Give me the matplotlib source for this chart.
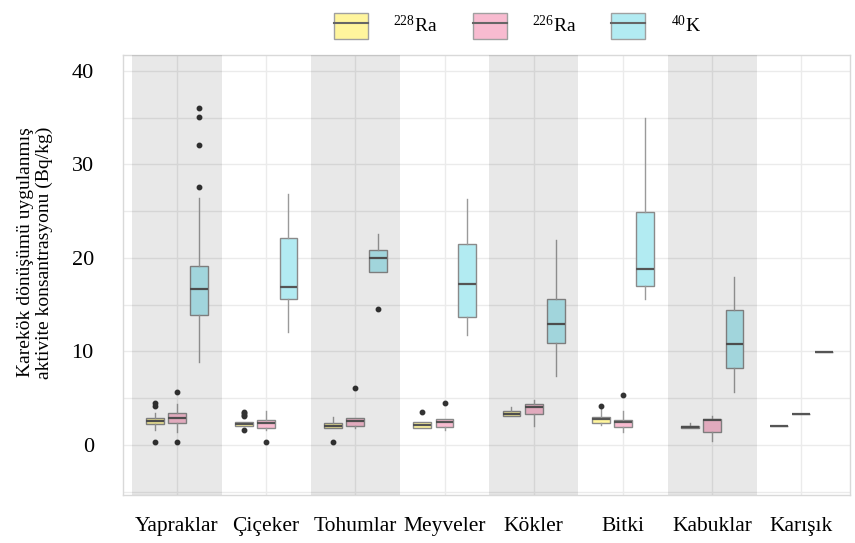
import numpy as np
import matplotlib
matplotlib.use('Agg')
import matplotlib.pyplot as plt
from matplotlib.patches import Patch
from matplotlib.lines import Line2D
from matplotlib.legend_handler import HandlerTuple

plt.rcParams['font.family'] = ['Liberation Serif', 'DejaVu Serif']
plt.rcParams['mathtext.fontset'] = 'custom'
plt.rcParams['mathtext.rm'] = 'Liberation Serif'
plt.rcParams['mathtext.default'] = 'regular'

categories = ['Yapraklar', 'Çiçeker', 'Tohumlar', 'Meyveler', 'Kökler', 'Bitki', 'Kabuklar', 'Karışık']
series_labels = [r'$^{228}$Ra', r'$^{226}$Ra', r'$^{40}$K']

# box statistics (sqrt-transformed Bq/kg)
ra228_q1 = [2.21, 2.07, 1.82, 1.78, 3.10, 2.39, 1.78, 2.07]
ra228_med = [2.53, 2.28, 2.04, 2.13, 3.35, 2.75, 1.93, 2.07]
ra228_q3 = [2.86, 2.49, 2.39, 2.49, 3.60, 2.95, 2.07, 2.07]
ra228_lo = [1.59, 2.07, 1.82, 1.78, 3.10, 2.13, 1.78, 2.07]
ra228_hi = [3.47, 2.49, 2.95, 2.49, 4.10, 3.92, 2.35, 2.07]
ra228_out = [[4.46, 4.16, 0.35], [3.57, 3.37, 3.2, 3.07, 1.60], [0.32], [3.53], [], [4.20], [], []]

ra226_q1 = [2.38, 1.86, 2.07, 1.89, 3.31, 1.97, 1.39, 3.31]
ra226_med = [2.88, 2.32, 2.60, 2.42, 4.02, 2.42, 2.64, 3.31]
ra226_q3 = [3.46, 2.64, 2.93, 2.78, 4.35, 2.67, 2.82, 3.31]
ra226_lo = [1.42, 1.59, 1.79, 1.59, 2.04, 1.42, 0.39, 3.31]
ra226_hi = [4.36, 3.67, 2.93, 2.78, 4.81, 3.67, 3.10, 3.31]
ra226_out = [[5.69, 0.35], [0.35], [6.09], [4.53], [], [5.35], [], []]

k40_q1 = [13.90, 15.61, 18.53, 13.72, 10.94, 17.00, 8.24, 9.91]
k40_med = [16.65, 16.86, 20.03, 17.18, 12.93, 18.82, 10.76, 9.91]
k40_q3 = [19.14, 22.10, 20.85, 21.49, 15.64, 24.93, 14.40, 9.91]
k40_lo = [8.91, 12.07, 18.53, 11.73, 7.42, 15.61, 5.70, 9.91]
k40_hi = [26.38, 26.81, 22.56, 26.31, 21.96, 34.92, 18.00, 9.91]
k40_out = [[36.0, 35.05, 32.09, 27.63], [], [14.51], [], [], [], [], []]

colors = ['#fff59d', '#f8bbd0', '#b2ebf2']
offsets = [-0.25, 0.0, 0.25]

series = [
    (ra228_q1, ra228_med, ra228_q3, ra228_lo, ra228_hi, ra228_out),
    (ra226_q1, ra226_med, ra226_q3, ra226_lo, ra226_hi, ra226_out),
    (k40_q1, k40_med, k40_q3, k40_lo, k40_hi, k40_out),
]

fig = plt.figure(figsize=(8.55, 5.43), dpi=100)
ax = fig.add_axes([123 / 855, 1 - 495 / 543, 727 / 855, 440 / 543])

x = np.arange(1, len(categories) + 1)

for k, (q1, med, q3, lo, hi, out) in enumerate(series):
    stats = []
    for i in range(len(categories)):
        stats.append(dict(q1=q1[i], med=med[i], q3=q3[i], whislo=lo[i],
                          whishi=hi[i], fliers=out[i]))
    ax.bxp(stats, positions=x + offsets[k], widths=0.2, patch_artist=True,
           showcaps=False, manage_ticks=False,
           boxprops=dict(facecolor=colors[k], edgecolor='#8a8a8a', linewidth=1),
           medianprops=dict(color='#555555', linewidth=1.6),
           whiskerprops=dict(color='#9a9a9a', linewidth=1),
           flierprops=dict(marker='o', markersize=3.2, markerfacecolor='#333333',
                           markeredgecolor='#333333'),
           zorder=2)

# shaded bands over every other group
for i in x[::2]:
    ax.axvspan(i - 0.5, i + 0.5, color='black', alpha=0.09, lw=0, zorder=3)

ax.set_xlim(0.395, 8.545)
ax.set_ylim(-5.35, 41.7)
ax.set_yticks([0, 10, 20, 30, 40])
ax.set_yticks([-5, 5, 15, 25, 35], minor=True)
ax.set_xticks(x)
ax.set_xticklabels(categories)
ax.grid(True, which='both', color='#ebebeb', linewidth=1, zorder=0)
ax.set_axisbelow(True)
ax.tick_params(axis='both', which='both', length=0)
ax.tick_params(axis='y', pad=21, labelsize=16)
ax.tick_params(axis='x', pad=16, labelsize=15.5)
for s in ax.spines.values():
    s.set_color('#d9d9d9')
    s.set_linewidth(1)

fig.text(35 / 855, 0.535, 'Karekök dönüşümü uygulanmış\naktivite konsantrasyonu (Bq/kg)',
         rotation=90, ha='center', va='center', fontsize=14, linespacing=1.15)

handles = [(Patch(facecolor=c, edgecolor='#a0a0a0'), Line2D([], [], color='#666666', lw=1.5))
           for c in colors]
fig.legend(handles, series_labels, handler_map={tuple: HandlerTuple(ndivide=1)},
           loc='center', bbox_to_anchor=(0.605, 0.952), ncol=3, frameon=False,
           fontsize=14, handlelength=1.75, handleheight=1.7, handletextpad=1.3,
           columnspacing=1.8)

fig.savefig('out.png', dpi=100)
